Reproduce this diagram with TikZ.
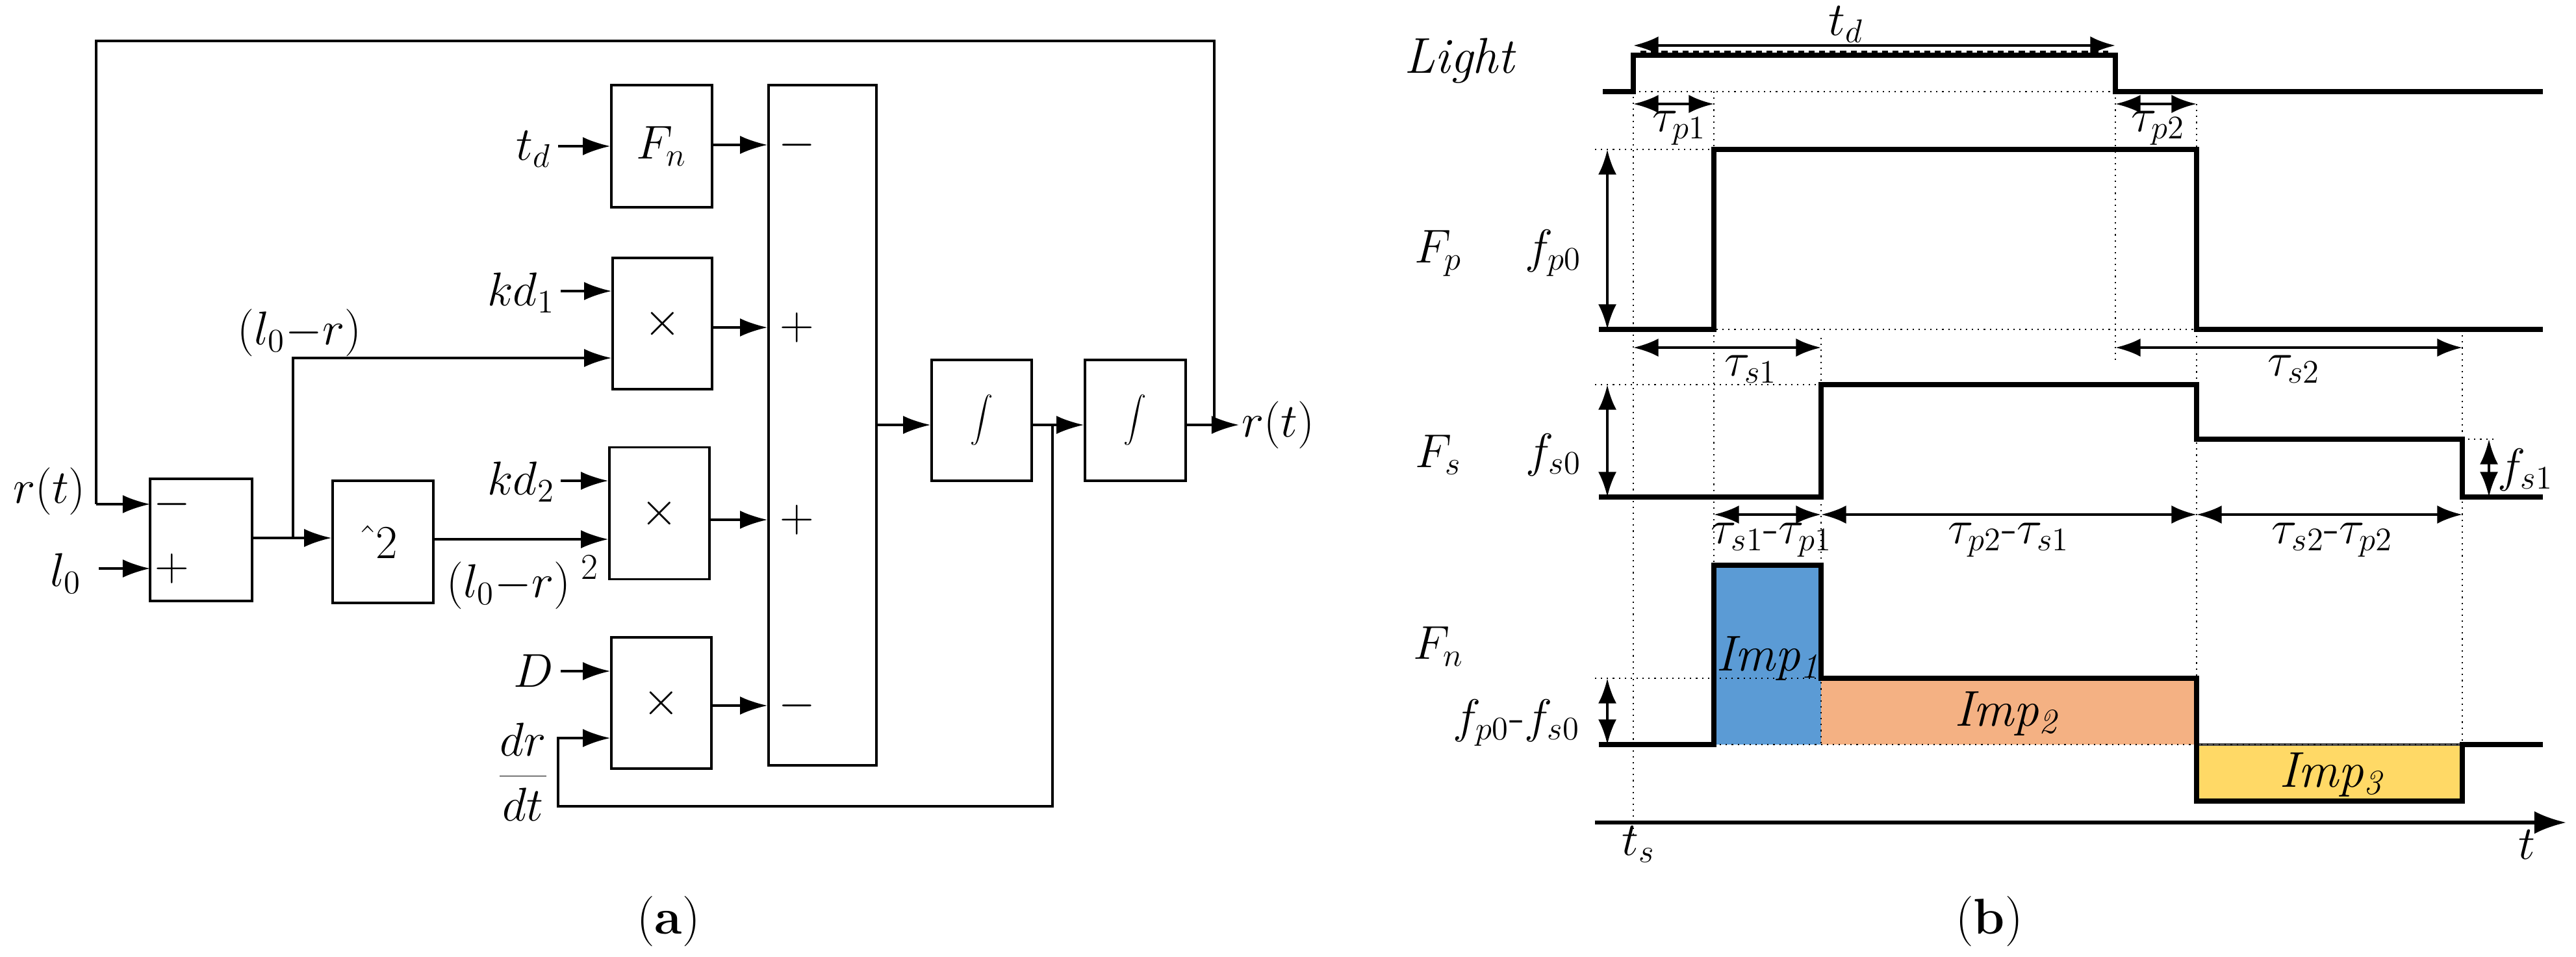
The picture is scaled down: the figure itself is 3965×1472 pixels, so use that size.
\documentclass[tikz,border=0pt]{standalone}
\usetikzlibrary{arrows.meta}
\definecolor{impb}{HTML}{5B9BD5}
\definecolor{impo}{HTML}{F4B183}
\definecolor{impy}{HTML}{FFD966}
\begin{document}
\begin{tikzpicture}[x=0.01cm,y=-0.01cm,
  every node/.style={font=\fontsize{22}{26}\selectfont},
  ln/.style={line width=1pt},
  arr/.style={line width=1pt,-{Latex[length=12pt,width=8pt]}},
  sig/.style={line width=2.2pt},
  dar/.style={line width=1.3pt,{Latex[length=11pt,width=8pt]}-{Latex[length=11pt,width=8pt]}},
  dots/.style={line width=0.6pt,dotted},
  lab/.style={inner sep=1pt},
  bx/.style={draw,line width=1pt,inner sep=0pt}]
\useasboundingbox (0,0) rectangle (3965,1472);
% ---------- (a) ----------
\node[bx,minimum width=157*0.01cm,minimum height=188*0.01cm] (s1) at (309.5,831) {};
\coordinate (s1in1) at (231,776); \coordinate (s1in2) at (231,875);
\node at (265,776) {$-$}; \node at (265,875) {$+$};
\node[lab] (rt) at (76,756) {$r(t)$};
\node[lab] (l0) at (101,883) {$l_0$};
\draw[arr] (148,776) -- (s1in1);
\draw[arr] (152,875) -- (s1in2);
\node[bx,minimum width=155*0.01cm,minimum height=188*0.01cm] (sq) at (589.5,834) {$\hat{}\,2$};
\node[bx,minimum width=155*0.01cm,minimum height=188*0.01cm] (fn) at (1018.5,225) {$F_n$};
\node[bx,minimum width=153*0.01cm,minimum height=202*0.01cm] (m1) at (1019.5,498) {$\times$};
\node[bx,minimum width=154*0.01cm,minimum height=203*0.01cm] (m2) at (1015,790) {$\times$};
\node[bx,minimum width=154*0.01cm,minimum height=202*0.01cm] (m3) at (1018,1082) {$\times$};
\node[bx,minimum width=166*0.01cm,minimum height=1047*0.01cm] (sum) at (1266,654.5) {};
\node[bx,minimum width=154*0.01cm,minimum height=186*0.01cm] (i1) at (1511,647) {$\displaystyle\int$};
\node[bx,minimum width=155*0.01cm,minimum height=186*0.01cm] (i2) at (1747.5,647) {$\displaystyle\int$};
\coordinate (j1) at (451,828);
\draw[ln] (s1.east |- j1) -- (j1);
\draw[arr] (j1) -- (sq.west |- j1);
\draw[arr] (j1) |- (m1.west |- 0,551);
\node[lab] at (461,512) {$(l_0{-}r)$};
\draw[arr] (sq.east |- 0,830) -- (m2.west |- 0,830);
\node[lab] at (783,901) {$(l_0{-}r)$};
\node[lab] at (907,873) {\fontsize{16}{18}\selectfont 2};
\node[lab] (td) at (821,230) {$t_d$};
\draw[arr] (859,225) -- (fn.west |- 0,225);
\node[lab] (kd1) at (802,451) {$kd_1$};
\draw[arr] (863,448) -- (m1.west |- 0,448);
\node[lab] (kd2) at (802,742) {$kd_2$};
\draw[arr] (863,740) -- (m2.west |- 0,740);
\node[lab] (D) at (821,1033) {$D$};
\draw[arr] (863,1033) -- (m3.west |- 0,1033);
\node[lab] at (805,1188) {$\displaystyle\frac{dr}{dt}$};
\draw[arr] (fn.east |- 0,223) -- (sum.west |- 0,223);
\draw[arr] (m1.east |- 0,504) -- (sum.west |- 0,504);
\draw[arr] (m2.east |- 0,800) -- (sum.west |- 0,800);
\draw[arr] (m3.east |- 0,1086) -- (sum.west |- 0,1086);
\node at (1227,223) {$-$}; \node at (1227,504) {$+$};
\node at (1227,800) {$+$}; \node at (1227,1086) {$-$};
\draw[arr] (sum.east |- 0,654) -- (i1.west |- 0,654);
\coordinate (j2) at (1620,654);
\draw[arr] (i1.east |- 0,654) -- (i2.west |- 0,654);
\draw[arr] (j2) -- (1620,1241) -- (859,1241) -- (859,1136) -- (m3.west |- 0,1136);
\coordinate (j3) at (1869,654);
\node[lab,anchor=west] (ro) at (1907,654) {$r(t)$};
\draw[arr] (i2.east |- 0,654) -- (ro.west);
\draw[ln] (j3) -- (1869,63) -- (148,63) -- (148,776);
\node at (1029,1418) {(\textbf{a})};
% ---------- (b) ----------
\begin{scope}[every node/.append style={lab}]
\node[font=\fontsize{22}{26}\selectfont\itshape] at (2246,94) {Light};
\node at (2214,390) {$F_p$}; \node at (2391,390) {$f_{p0}$};
\node at (2214,700) {$F_s$}; \node at (2391,700) {$f_{s0}$};
\node at (2214,995) {$F_n$}; \node at (2334,1113) {$f_{p0}$-$f_{s0}$};
\end{scope}
% fills
\fill[impb] (2638,870) rectangle (2803,1146);
\fill[impo] (2803,1044) rectangle (3381,1146);
\fill[impy] (3381,1146) rectangle (3790,1233);
\draw[line width=1pt,black!70] (3381,1146) rectangle (3790,1233);
\node[font=\fontsize{22}{26}\selectfont\itshape] at (2721,1014) {Imp\textsubscript{1}};
\node[font=\fontsize{22}{26}\selectfont\itshape] at (3088,1099) {Imp\textsubscript{2}};
\node[font=\fontsize{22}{26}\selectfont\itshape] at (3588,1193) {Imp\textsubscript{3}};
% dotted guides
\draw[dots] (2514,85) -- (2514,1290);
\draw[dots] (2638,141) -- (2638,1146);
\draw[dots] (2803,520) -- (2803,1146);
\draw[dots] (3256,141) -- (3256,554);
\draw[dots] (3381,160) -- (3381,1233);
\draw[dots] (3790,507) -- (3790,1233);
\draw[dots] (2514,141) -- (3256,141);
\draw[dots] (2455,230) -- (2638,230);
\draw[dots] (2514,507) -- (3381,507);
\draw[dots] (2455,592) -- (2803,592);
\draw[dots] (3790,676) -- (3841,676);
\draw[dots] (2455,1044) -- (2803,1044);
\draw[dots] (2638,1146) -- (3790,1146);
% signals
\draw[sig] (2467,141) -- (2514,141) -- (2514,85) -- (3256,85) -- (3256,141) -- (3914,141);
\draw[sig] (2461,507) -- (2638,507) -- (2638,230) -- (3381,230) -- (3381,507) -- (3914,507);
\draw[sig] (2461,765) -- (2803,765) -- (2803,592) -- (3381,592) -- (3381,676) -- (3790,676) -- (3790,765) -- (3914,765);
\draw[sig] (2461,1146) -- (2638,1146) -- (2638,870) -- (2803,870) -- (2803,1044) -- (3381,1044) -- (3381,1233) -- (3790,1233) -- (3790,1146) -- (3914,1146);
\draw[line width=2.6pt,dotted] (2525,83) -- (3245,83);
% arrows
\draw[dar] (2514,70) -- (3256,70); \node at (2841,38) {$t_d$};
\draw[dar] (2514,160) -- (2638,160); \node at (2585,197) {$\tau_{p1}$};
\draw[dar] (3256,160) -- (3381,160); \node at (3322,197) {$\tau_{p2}$};
\draw[dar] (2474,230) -- (2474,507);
\draw[dar] (2514,535) -- (2803,535); \node at (2695,568) {$\tau_{s1}$};
\draw[dar] (3256,535) -- (3790,535); \node at (3531,568) {$\tau_{s2}$};
\draw[dar] (2474,592) -- (2474,765);
\draw[dar] (3831,676) -- (3831,765); \node at (3887,723) {$f_{s1}$};
\draw[dar] (2638,792) -- (2803,792); \node at (2727,831) {$\tau_{s1}$-$\tau_{p1}$};
\draw[dar] (2803,792) -- (3381,792); \node at (3092,831) {$\tau_{p2}$-$\tau_{s1}$};
\draw[dar] (3381,792) -- (3790,792); \node at (3590,831) {$\tau_{s2}$-$\tau_{p2}$};
\draw[dar] (2474,1044) -- (2474,1146);
\draw[line width=1.6pt,-{Latex[length=14pt,width=10pt]}] (2455,1266) -- (3950,1266);
\node at (2522,1300) {$t_s$}; \node at (3889,1300) {$t$};
\node at (3062,1418) {(\textbf{b})};
\end{tikzpicture}
\end{document}
